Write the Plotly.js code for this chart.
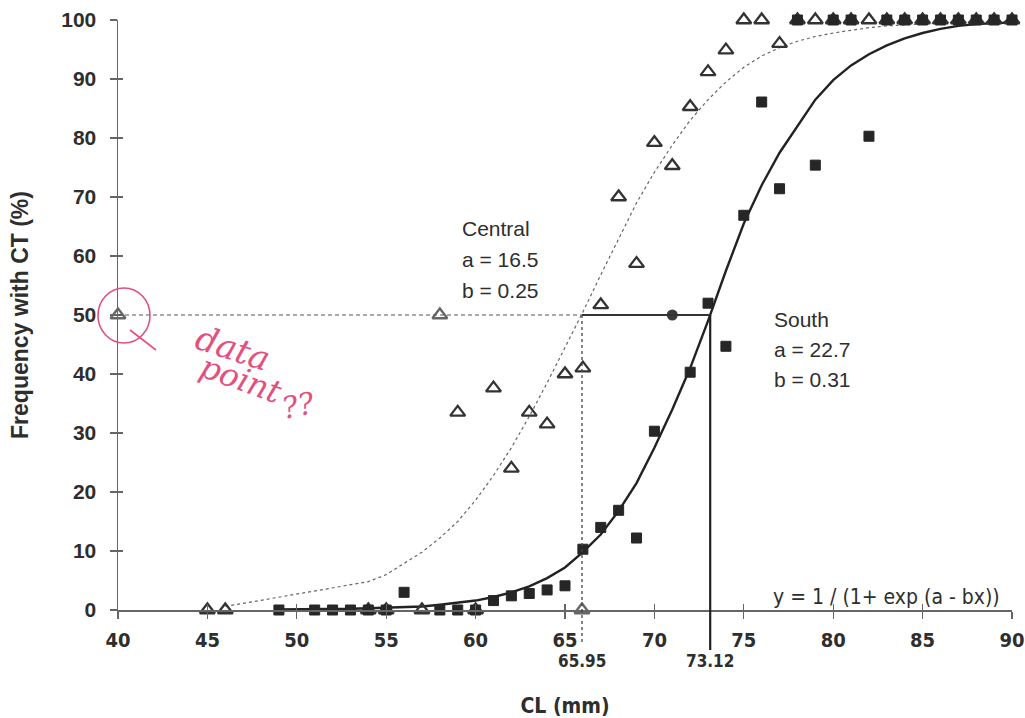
<!DOCTYPE html>
<html>
<head>
<meta charset="utf-8">
<script src="https://cdn.plot.ly/plotly-3.0.1.min.js"></script>
<style>
  html, body { margin: 0; padding: 0; background: #ffffff; }
  #chart { width: 1025px; height: 718px; }
</style>
</head>
<body>
<div id="chart"></div>
<script>
// ---- Central (open triangles) ----
var centralX = [45, 46, 54, 55, 57, 59, 60, 61, 62, 63, 64, 65, 66, 67, 68, 69, 70, 71, 72, 73, 74, 75, 76, 77, 78, 79, 80, 81, 82, 83, 84, 85, 86, 87, 88, 89, 90];
var centralY = [0, 0, 0, 0, 0, 33.5, 0, 37.6, 24, 33.5, 31.5, 40, 41, 51.7, 70, 58.7, 79.2, 75.3, 85.3, 91.2, 94.9, 100, 100, 96, 100, 100, 100, 100, 100, 100, 100, 100, 100, 100, 100, 100, 100];

// ---- South (filled squares) ----
var southX = [49, 51, 52, 53, 54, 55, 56, 58, 59, 60, 61, 62, 63, 64, 65, 66, 67, 68, 69, 70, 72, 73, 74, 75, 76, 77, 78, 79, 80, 81, 82, 83, 84, 85, 86, 87, 88, 89, 90];
var southY = [0, 0, 0, 0, 0, 0, 3, 0, 0, 0, 1.6, 2.4, 2.8, 3.4, 4.1, 10.3, 14, 16.9, 12.2, 30.3, 40.3, 52, 44.7, 66.9, 86.1, 71.4, 100, 75.4, 100, 100, 80.3, 100, 100, 100, 100, 100, 100, 100, 100];

// ---- Fitted curves ----
var centralFitX = [46, 54, 55, 57, 58, 59, 60, 61, 62, 63, 64, 65, 66, 67, 68, 69, 70, 71, 72, 73, 74, 75, 76, 77, 78, 79, 80, 81, 82, 83, 84, 85, 86, 87, 88, 89, 90];
var centralFitY = [0.6, 4.8, 6.0, 9.8, 12.2, 15.0, 18.6, 22.8, 27.5, 32.8, 38.5, 44.5, 50.5, 56.8, 63, 69, 74.2, 78.8, 83, 86.5, 89.5, 92, 93.9, 95.3, 96.4, 97.2, 97.8, 98.3, 98.7, 99.0, 99.2, 99.4, 99.5, 99.6, 99.7, 99.8, 99.8];

var southFitX = [49, 51, 52, 53, 54, 55, 56, 57, 58, 59, 60, 61, 62, 63, 64, 65, 66, 67, 68, 69, 70, 71, 72, 73, 74, 75, 76, 77, 78, 79, 80, 81, 82, 83, 84, 85, 86, 87, 88, 89, 90];
var southFitY = [0.1, 0.1, 0.1, 0.2, 0.3, 0.4, 0.5, 0.6, 0.9, 1.2, 1.6, 2.2, 3.0, 4.0, 5.4, 7.2, 9.8, 12.8, 16.8, 21.5, 27.5, 34, 41, 49, 57.5, 65.5, 72, 77.5, 82, 86.5, 89.8, 92.3, 94.2, 95.7, 96.9, 97.8, 98.5, 99.0, 99.3, 99.5, 99.6];

// ---- Reference markers / values ----
var refTriX = [40, 58, 65.95];
var refTriY = [50, 50, 0];
var midDotX = [71];
var midDotY = [50];
var centralL50 = 65.95;
var southL50 = 73.12;
var halfLevel = 50;
var xMin = 40, xMax = 90, yMin = 0, yMax = 100;
var xTicks = [40, 45, 50, 55, 60, 65, 70, 75, 80, 85, 90];
var yTicks = [0, 10, 20, 30, 40, 50, 60, 70, 80, 90, 100];

var narrowBold = '"Liberation Sans Narrow", "DejaVu Sans Condensed", "Arial Narrow", sans-serif';
var arial = '"Liberation Sans", Arial, sans-serif';
var ink = '#2e2e2e';

var traces = [
  { x: centralFitX, y: centralFitY, mode: 'lines', type: 'scatter',
    line: { color: '#666666', width: 1.2, dash: '3px,3px' }, hoverinfo: 'skip' },
  { x: southFitX, y: southFitY, mode: 'lines', type: 'scatter',
    line: { color: '#222222', width: 2.4 }, hoverinfo: 'skip' },
  { x: centralX, y: centralY, mode: 'markers', type: 'scatter', cliponaxis: false,
    marker: { symbol: 'triangle-up-open', size: 13, color: '#333333', line: { width: 2.3, color: '#333333' } } },
  { x: refTriX, y: refTriY, mode: 'markers', type: 'scatter', cliponaxis: false,
    marker: { symbol: 'triangle-up-open', size: 13, color: '#666666', line: { width: 2.3, color: '#666666' } } },
  { x: southX, y: southY, mode: 'markers', type: 'scatter', cliponaxis: false,
    marker: { symbol: 'square', size: 10, color: '#262626', line: { width: 1, color: '#262626' } } },
  { x: midDotX, y: midDotY, mode: 'markers', type: 'scatter', cliponaxis: false,
    marker: { symbol: 'circle', size: 11, color: '#3a3a3a' } },
  // overlay axes for crossing ticks
  { x: [], y: [], xaxis: 'x2', yaxis: 'y2', mode: 'markers', type: 'scatter', hoverinfo: 'skip' }
];

function P(px) { return (px - 118) / 894; }       // decorative handwriting placement (paper x)
function Q(py) { return (610 - py) / 590; }       // (paper y)

var pink = '#e4507e';

var layout = {
  width: 1025, height: 718,
  margin: { l: 118, r: 13, t: 20, b: 108 },
  paper_bgcolor: '#ffffff', plot_bgcolor: '#ffffff',
  showlegend: false,
  hovermode: false,
  xaxis: {
    range: [xMin, xMax], tickvals: xTicks, ticktext: xTicks.map(String),
    showgrid: false, zeroline: false,
    showline: true, linecolor: '#666666', linewidth: 1.5,
    ticks: 'outside', ticklen: 7, tickwidth: 1.3, tickcolor: '#666666',
    ticklabelstandoff: 4,
    tickfont: { family: narrowBold, size: 20, color: ink, weight: 700 },
    title: { text: 'CL (mm)', font: { family: narrowBold, size: 21, color: ink, weight: 700 }, standoff: 50 }
  },
  yaxis: {
    range: [yMin, yMax], tickvals: yTicks, ticktext: yTicks.map(String),
    showgrid: false, zeroline: false,
    showline: true, linecolor: '#666666', linewidth: 1.5,
    ticks: 'outside', ticklen: 7, tickwidth: 1.3, tickcolor: '#666666',
    ticklabelstandoff: 9,
    tickfont: { family: arial, size: 21, color: ink, weight: 700 },
    title: { text: 'Frequency with CT (%)', font: { family: arial, size: 23, color: ink, weight: 700 }, standoff: 26 }
  },
  xaxis2: { overlaying: 'x', anchor: 'y2', range: [xMin, xMax], tickvals: xTicks, showticklabels: false,
    showgrid: false, zeroline: false, showline: false, ticks: 'inside', ticklen: 6, tickwidth: 1.3, tickcolor: '#666666' },
  yaxis2: { overlaying: 'y', anchor: 'x2', range: [yMin, yMax], tickvals: yTicks, showticklabels: false,
    showgrid: false, zeroline: false, showline: false, ticks: 'inside', ticklen: 5, tickwidth: 1.3, tickcolor: '#666666' },
  shapes: [
    { type: 'line', xref: 'x', yref: 'y', x0: xMin, x1: centralL50, y0: halfLevel, y1: halfLevel,
      line: { color: '#555555', width: 1.2, dash: '4px,3px' } },
    { type: 'line', xref: 'x', yref: 'y', x0: centralL50, x1: southL50, y0: halfLevel, y1: halfLevel,
      line: { color: '#333333', width: 2.2 } },
    { type: 'line', xref: 'x', yref: 'paper', x0: centralL50, x1: centralL50, y0: halfLevel / yMax, y1: -0.055,
      line: { color: '#444444', width: 1.3, dash: '3px,3px' } },
    { type: 'line', xref: 'x', yref: 'paper', x0: southL50, x1: southL50, y0: halfLevel / yMax, y1: -0.068,
      line: { color: '#222222', width: 2.2 } },
    { type: 'circle', xref: 'paper', yref: 'y', xsizemode: 'pixel', ysizemode: 'pixel',
      xanchor: 0, yanchor: halfLevel, x0: -20, x1: 32, y0: -28, y1: 27,
      line: { color: pink, width: 1.6 } },
    { type: 'line', xref: 'paper', yref: 'paper', x0: P(130), y0: Q(330), x1: P(156), y1: Q(350),
      line: { color: pink, width: 1.6 } }
  ],
  annotations: [
    { xref: 'x', yref: 'y', x: 59.15, y: 64.7, text: 'Central', showarrow: false, xanchor: 'left',
      font: { family: arial, size: 21, color: ink } },
    { xref: 'x', yref: 'y', x: 59.15, y: 59.4, text: 'a = 16.5', showarrow: false, xanchor: 'left',
      font: { family: arial, size: 21, color: ink } },
    { xref: 'x', yref: 'y', x: 59.15, y: 54.2, text: 'b = 0.25', showarrow: false, xanchor: 'left',
      font: { family: arial, size: 21, color: ink } },
    { xref: 'x', yref: 'y', x: 76.6, y: 49.2, text: 'South', showarrow: false, xanchor: 'left',
      font: { family: arial, size: 21, color: ink } },
    { xref: 'x', yref: 'y', x: 76.6, y: 44.1, text: 'a = 22.7', showarrow: false, xanchor: 'left',
      font: { family: arial, size: 21, color: ink } },
    { xref: 'x', yref: 'y', x: 76.6, y: 39.0, text: 'b = 0.31', showarrow: false, xanchor: 'left',
      font: { family: arial, size: 21, color: ink } },
    { xref: 'x', yref: 'y', x: 76.5, y: 2.2, text: 'y = 1 / (1+ exp (a - bx))', showarrow: false, xanchor: 'left',
      font: { family: narrowBold, size: 21, color: ink } },
    { xref: 'x', yref: 'paper', x: centralL50, y: -0.066, text: '65.95', showarrow: false, yanchor: 'top',
      font: { family: narrowBold, size: 17, color: ink, weight: 700 } },
    { xref: 'x', yref: 'paper', x: southL50, y: -0.066, text: '73.12', showarrow: false, yanchor: 'top',
      font: { family: narrowBold, size: 17, color: ink, weight: 700 } },
    // handwritten note
    { xref: 'paper', yref: 'paper', x: P(188), y: Q(348), text: 'data', showarrow: false, textangle: 18,
      font: { family: '"DejaVu Serif", serif', size: 34, color: pink, style: 'italic' } },
    { xref: 'paper', yref: 'paper', x: P(192), y: Q(414), text: 'point', showarrow: false, textangle: 20,
      font: { family: '"DejaVu Serif", serif', size: 32, color: pink, style: 'italic' } },
    { xref: 'paper', yref: 'paper', x: P(276), y: Q(428), text: '??', showarrow: false, textangle: -12,
      font: { family: '"DejaVu Serif", serif', size: 30, color: pink, style: 'italic' } }
  ]
};

Plotly.newPlot('chart', traces, layout, { displayModeBar: false, staticPlot: true });
</script>
</body>
</html>
